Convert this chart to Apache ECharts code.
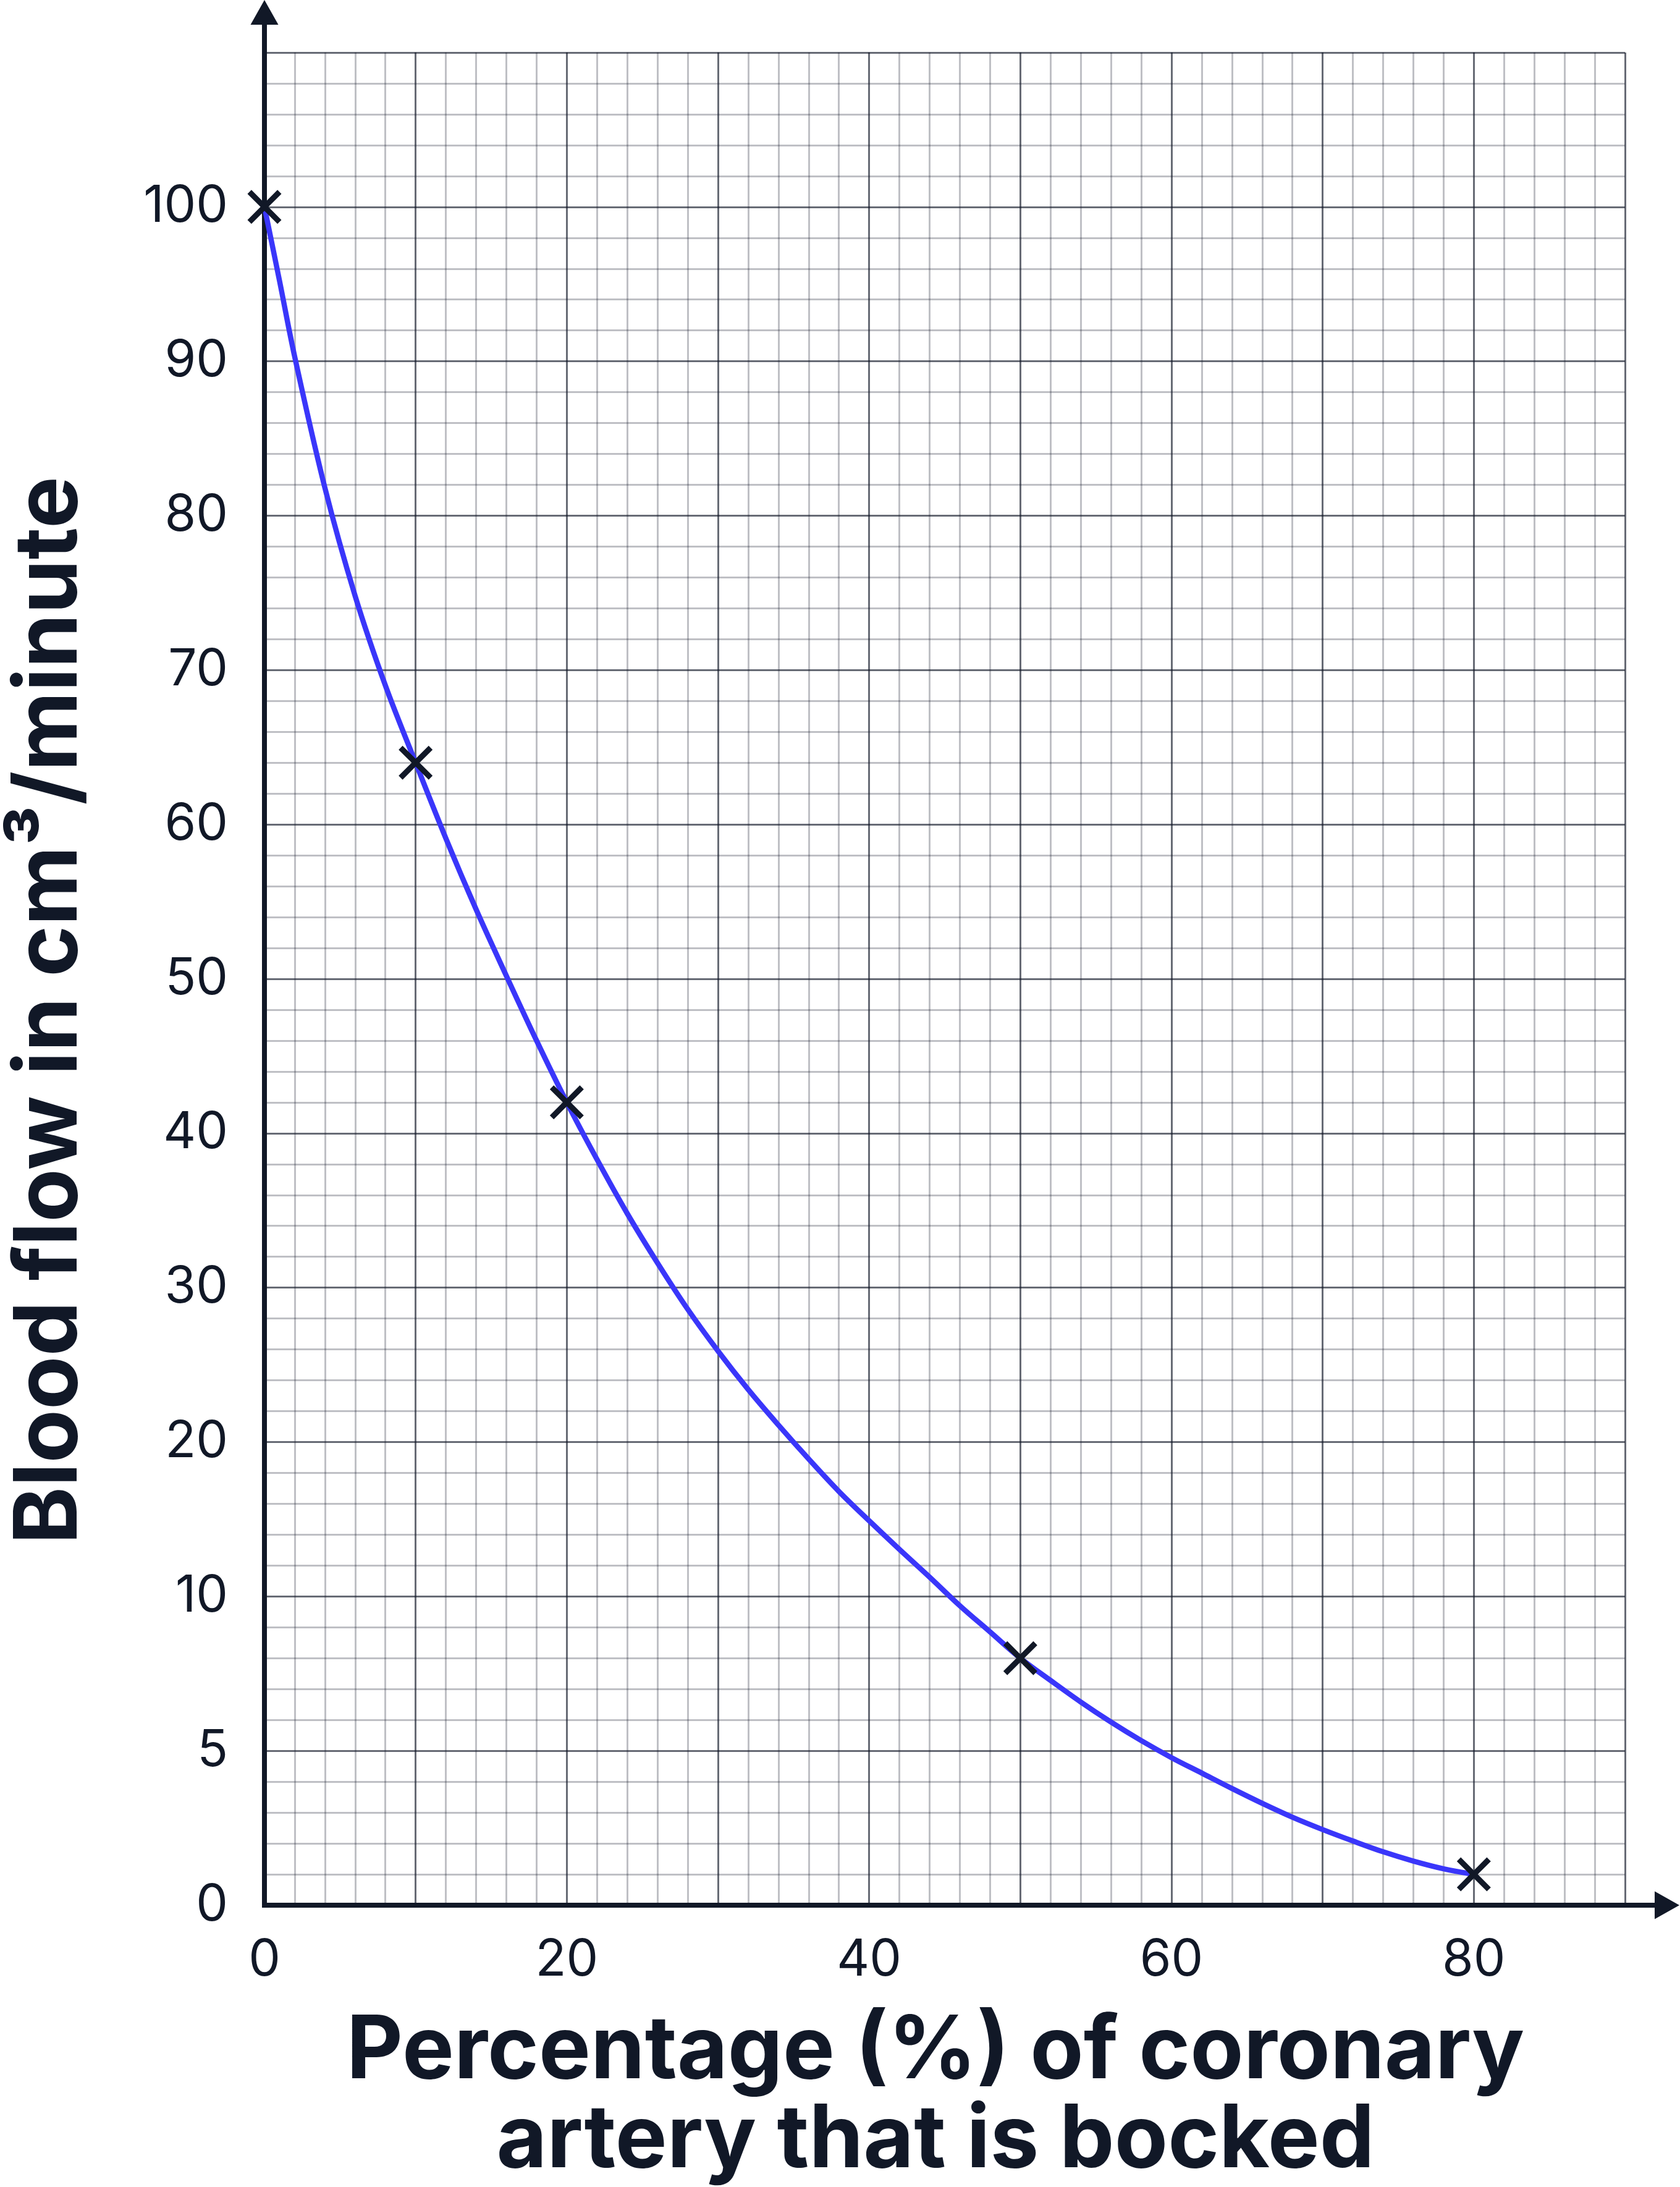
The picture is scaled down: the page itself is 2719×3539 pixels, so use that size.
<!DOCTYPE html>
<html>
<head>
<meta charset="utf-8">
<script src="https://cdn.jsdelivr.net/npm/echarts@6/dist/echarts.min.js"></script>
<style>
html, body { margin: 0; padding: 0; background: #ffffff; }
#chart { width: 2719px; height: 3539px; }
</style>
</head>
<body>
<div id="chart"></div>
<script>
// ---- data ----
const yTickValues = [0, 5, 10, 20, 30, 40, 50, 60, 70, 80, 90, 100];
const xTickLabels = [0, 20, 40, 60, 80];
const pointX = [0, 10, 20, 50, 80];
const pointY = [100, 64, 42, 8, 1];
const curveX = [0, 1, 2, 4, 6, 8, 10, 12, 14, 16, 18, 20, 22, 24, 26, 28, 30, 32, 34, 36, 38, 40,
                42, 44, 46, 48, 50, 52, 54, 56, 58, 60, 62, 64, 66, 68, 70, 72, 74, 76, 78, 80];
const curveY = [100, 95.2, 90.3, 81.8, 74.8, 69.0, 64, 59.1, 54.5, 50.2, 46.0, 42, 38.3, 34.8, 31.6, 28.6,
                25.9, 23.4, 21.1, 18.9, 16.8, 14.9, 13.05, 11.25, 9.7, 8.85, 8, 7.28, 6.58, 5.93, 5.33, 4.78,
                4.28, 3.78, 3.3, 2.85, 2.45, 2.08, 1.73, 1.43, 1.18, 1];
const yTitle = 'Blood flow in cm\u00B3/minute';
const xTitle = 'Percentage (%) of coronary\nartery that is bocked';

// the y axis is drawn with equally spaced ticks 0,5,10,20,...,100: map a value to its tick position
function toPos(v) {
  for (let i = 0; i < yTickValues.length - 1; i++) {
    if (v <= yTickValues[i + 1]) {
      return i + (v - yTickValues[i]) / (yTickValues[i + 1] - yTickValues[i]);
    }
  }
  return yTickValues.length - 1;
}

const INK = '#111827';
const MAJOR = 'rgba(17,24,39,0.64)';
const MINOR = 'rgba(17,24,39,0.27)';
const FONT = 'Inter';
const CROSS = 'path://M27.4,21.04L48.42,0L54.8,6.38L33.76,27.4L54.8,48.42L48.42,54.8L27.4,33.76L6.38,54.8L0,48.42L21.04,27.4L0,6.38L6.38,0Z';

const chart = echarts.init(document.getElementById('chart'), null, { renderer: 'canvas' });

const option = {
  animation: false,
  backgroundColor: '#ffffff',
  grid: [
    { left: 428, right: 89, top: 85, bottom: 456 },
    { left: 428, right: 41, top: 40, bottom: 456 }
  ],
  xAxis: [
    {
      gridIndex: 0, type: 'value', min: 0, max: 90, interval: 10,
      axisLine: { show: false }, axisTick: { show: false },
      axisLabel: {
        formatter: function (v) { return xTickLabels.indexOf(Math.round(v)) >= 0 ? String(Math.round(v)) : ''; },
        fontSize: 82, color: INK, fontFamily: FONT, margin: 48
      },
      splitLine: { show: true, lineStyle: { color: MAJOR, width: 3 } },
      minorTick: { show: false, splitNumber: 5 },
      minorSplitLine: { show: true, lineStyle: { color: MINOR, width: 3 } }
    },
    {
      gridIndex: 1, type: 'value', min: 0, max: 1,
      axisLine: { show: true, symbol: ['none', 'triangle'], symbolSize: [45, 40], symbolOffset: [0, 20],
                  lineStyle: { color: INK, width: 8, cap: 'square' } },
      axisTick: { show: false }, axisLabel: { show: false }, splitLine: { show: false }
    }
  ],
  yAxis: [
    {
      gridIndex: 0, type: 'value', min: 0, max: 12, interval: 1,
      axisLine: { show: false }, axisTick: { show: false },
      axisLabel: {
        formatter: function (v) { const i = Math.round(v); return i < yTickValues.length ? String(yTickValues[i]) : ''; },
        fontSize: 82, color: INK, fontFamily: FONT, margin: 59
      },
      splitLine: { show: true, lineStyle: { color: MAJOR, width: 3 } },
      minorTick: { show: false, splitNumber: 5 },
      minorSplitLine: { show: true, lineStyle: { color: MINOR, width: 3 } }
    },
    {
      gridIndex: 1, type: 'value', min: 0, max: 1,
      axisLine: { show: true, symbol: ['none', 'triangle'], symbolSize: [45, 40], symbolOffset: [0, 20],
                  lineStyle: { color: INK, width: 8, cap: 'square' } },
      axisTick: { show: false }, axisLabel: { show: false }, splitLine: { show: false }
    }
  ],
  series: [
    {
      type: 'line', xAxisIndex: 0, yAxisIndex: 0,
      data: curveX.map(function (x, i) { return [x, toPos(curveY[i])]; }),
      smooth: 0.35, showSymbol: false, symbol: 'none',
      lineStyle: { color: '#3a36fa', width: 8.5 },
      z: 3, silent: true
    },
    {
      type: 'scatter', xAxisIndex: 0, yAxisIndex: 0,
      data: pointX.map(function (x, i) { return [x, toPos(pointY[i])]; }),
      symbol: CROSS, symbolSize: 55,
      itemStyle: { color: INK, opacity: 1 },
      z: 4, silent: true
    }
  ],
  graphic: [
    {
      type: 'text', x: 82, y: 1635, rotation: Math.PI / 2,
      style: { text: yTitle, font: 'bold 141px Inter', fill: INK,
               align: 'center', verticalAlign: 'middle', textAlign: 'center', textVerticalAlign: 'middle' }
    },
    {
      type: 'text', x: 1514, y: 3393,
      style: { text: xTitle, font: 'bold 141px Inter', fill: INK, lineHeight: 144,
               align: 'center', verticalAlign: 'middle', textAlign: 'center', textVerticalAlign: 'middle' }
    }
  ]
};

chart.setOption(option);
</script>
</body>
</html>
